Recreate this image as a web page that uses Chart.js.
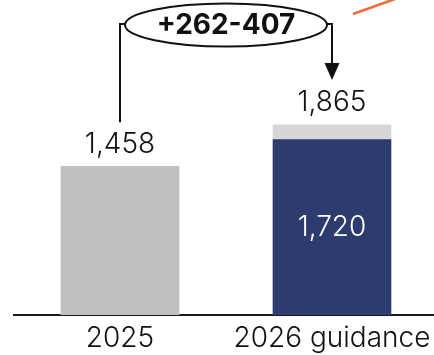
<!DOCTYPE html>
<html>
<head>
<meta charset="utf-8">
<script src="https://cdn.jsdelivr.net/npm/chart.js@4.4.1/dist/chart.umd.min.js"></script>
<style>
  html, body { margin: 0; padding: 0; background: #fff; overflow: hidden; }
  #wrap { width: 438px; height: 355px; }
</style>
</head>
<body>
<div id="wrap"><canvas id="guidance-chart"></canvas></div>
<script>
const categories = ['2025', '2026 guidance'];
const baseValues = [1458, 1720];      // actual / guidance low end
const rangeValues = [null, 145];      // guidance range on top (1,865 - 1,720)
const topLabels = ['1,458', '1,865'];
const innerLabels = [null, '1,720'];
const deltaLabel = '+262-407';

const FONT = 'Inter, "Noto Sans", sans-serif';

// value labels, bracket with the delta bubble, and the orange stroke in the corner
const overlay = {
  id: 'overlay',
  afterDatasetsDraw(chart) {
    const ctx = chart.ctx;
    const x = chart.scales.x;
    const y = chart.scales.y;
    const tops = baseValues.map((v, i) => y.getPixelForValue(v + (rangeValues[i] || 0)));
    const xs = categories.map((c, i) => x.getPixelForValue(i));

    ctx.save();
    ctx.textAlign = 'center';
    ctx.textBaseline = 'middle';
    ctx.font = '300 28px ' + FONT;
    ctx.fillStyle = '#111';
    topLabels.forEach((t, i) => ctx.fillText(t, xs[i], tops[i] - 22));
    ctx.fillStyle = '#fff';
    innerLabels.forEach((t, i) => {
      if (!t) return;
      const yTop = y.getPixelForValue(baseValues[i]);
      ctx.fillText(t, xs[i], (yTop + y.bottom) / 2);
    });

    // bracket
    const ly = 24;
    const cx = (xs[0] + xs[1]) / 2;
    const rx = 101, ry = 21.5;
    ctx.strokeStyle = '#111';
    ctx.lineWidth = 2;
    ctx.beginPath();
    ctx.moveTo(xs[0], tops[0] - 44);
    ctx.lineTo(xs[0], ly);
    ctx.lineTo(cx - rx, ly);
    ctx.moveTo(cx + rx, ly);
    ctx.lineTo(xs[1], ly);
    ctx.lineTo(xs[1], 64);
    ctx.stroke();
    ctx.fillStyle = '#111';
    ctx.beginPath();
    ctx.moveTo(xs[1] - 7.5, 63);
    ctx.lineTo(xs[1] + 7.5, 63);
    ctx.lineTo(xs[1], 80);
    ctx.closePath();
    ctx.fill();

    ctx.fillStyle = '#fff';
    ctx.beginPath();
    ctx.ellipse(cx, 25, rx, ry, 0, 0, Math.PI * 2);
    ctx.fill();
    ctx.stroke();
    ctx.fillStyle = '#111';
    ctx.font = 'bold 28px ' + FONT;
    ctx.fillText(deltaLabel, cx, 26);

    ctx.strokeStyle = '#F26A3A';
    ctx.lineWidth = 2.5;
    ctx.beginPath();
    ctx.moveTo(353, 14);
    ctx.lineTo(395, -1);
    ctx.stroke();
    ctx.restore();
  }
};

new Chart(document.getElementById('guidance-chart'), {
  type: 'bar',
  data: {
    labels: categories,
    datasets: [
      {
        data: baseValues,
        backgroundColor: ['#C0C0C0', '#2E3B6E'],
        barThickness: 118,
        stack: 's'
      },
      {
        data: rangeValues,
        backgroundColor: '#D5D6D8',
        barThickness: 118,
        stack: 's'
      }
    ]
  },
  options: {
    responsive: true,
    maintainAspectRatio: false,
    animation: false,
    layout: { padding: { left: 14, right: 0, top: 0, bottom: 0 } },
    plugins: { legend: { display: false }, tooltip: { enabled: false } },
    scales: {
      x: {
        stacked: true,
        grid: { display: false, drawTicks: false },
        border: { display: true, color: '#1a1a1a', width: 2 },
        ticks: { color: '#111', font: { family: FONT, size: 28, weight: '300' }, padding: 7 },
        afterFit(scale) { scale.height = 40; }
      },
      y: {
        stacked: true,
        display: false,
        min: 0,
        max: 3090
      }
    }
  },
  plugins: [overlay]
});
</script>
</body>
</html>
